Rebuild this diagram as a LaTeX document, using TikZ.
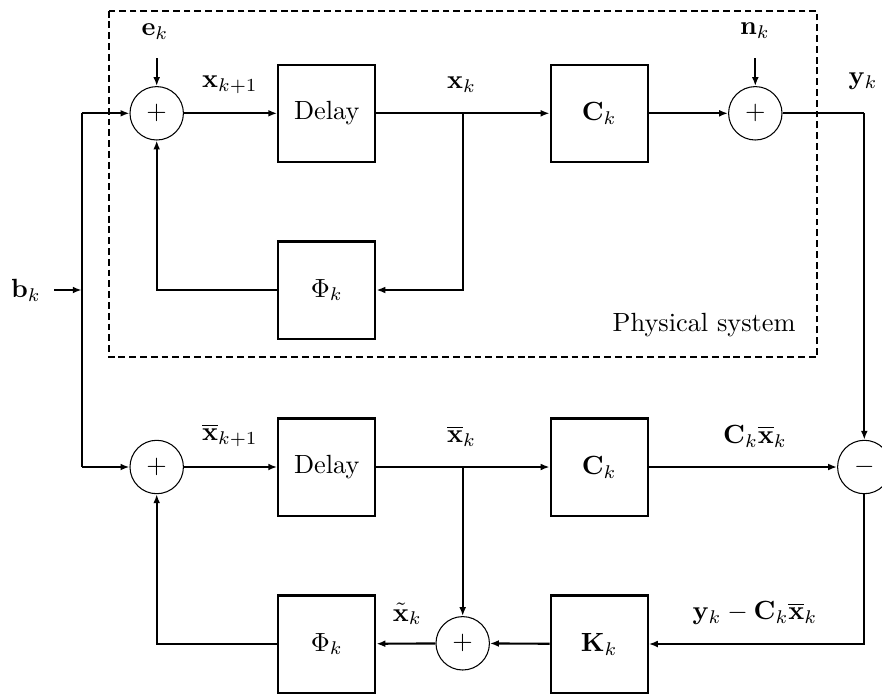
\documentclass[tikz,border=0pt]{standalone}
\usetikzlibrary{arrows.meta}
\begin{document}
\begin{tikzpicture}[x=0.38pt,y=-0.38pt,
  blk/.style={draw,line width=0.8pt,minimum size=36.9pt,inner sep=0pt},
  sumc/.style={draw,circle,line width=0.4pt,minimum size=20.3pt,inner sep=0pt},
  wire/.style={line width=0.8pt},
  arr/.style={line width=0.8pt,-{Latex[length=3.4pt,width=2.6pt]}},
  lbl/.style={inner sep=0pt}]
\useasboundingbox (0,0) rectangle (882,693);
% dashed frame
\draw[line width=0.8pt,dash pattern=on 2.6pt off 1.5pt] (109,10.7) rectangle (817.3,357.3);
\node[lbl,anchor=east] (phys) at (796,325) {Physical system};
% top row
\node[sumc] (s1) at (156.7,113.3) {$+$};
\node[blk] (d1) at (326.8,113.3) {Delay};
\node[blk] (p1) at (326.8,290) {$\Phi_k$};
\node[blk] (c1) at (599.2,113.3) {$\mathbf{C}_k$};
\node[sumc] (s2) at (755.3,113.3) {$+$};
\coordinate (b1) at (462.7,113.3);
\coordinate (yc) at (864.3,113.3);
% bottom rows
\node[sumc] (s3) at (156.7,467) {$+$};
\node[blk] (d2) at (326.8,467) {Delay};
\node[blk] (c2) at (599.2,467) {$\mathbf{C}_k$};
\node[sumc] (m) at (864.3,467) {$-$};
\coordinate (b2) at (462.7,467);
\node[blk] (p2) at (326.8,644) {$\Phi_k$};
\node[sumc] (s4) at (462.7,643.3) {$+$};
\node[blk] (kk) at (599.2,644) {$\mathbf{K}_k$};
% inputs
\node[lbl] (bk) at (26,290) {$\mathbf{b}_k$};
\coordinate (bs) at (54,290);
\coordinate (bj) at (81.7,290);
\coordinate (jt) at (81.7,113.3);
\coordinate (jb) at (81.7,467);
\node[lbl] (ek) at (155,31.7) {$\mathbf{e}_k$};
\coordinate (es) at (156.7,58);
\node[lbl] (nk) at (755,31) {$\mathbf{n}_k$};
\coordinate (ns) at (755.3,58);
% labels
\node[lbl] (lx1) at (230,85) {$\mathbf{x}_{k+1}$};
\node[lbl] (lx) at (461.7,85) {$\mathbf{x}_k$};
\node[lbl] (ly) at (863,81.7) {$\mathbf{y}_k$};
\node[lbl] (lbx1) at (230,435) {$\overline{\mathbf{x}}_{k+1}$};
\node[lbl] (lbx) at (461.7,436) {$\overline{\mathbf{x}}_k$};
\node[lbl] (lcx) at (755,436) {$\mathbf{C}_k\overline{\mathbf{x}}_k$};
\node[lbl] (ltx) at (407.3,614) {$\tilde{\mathbf{x}}_k$};
\node[lbl] (lres) at (755,613) {$\mathbf{y}_k-\mathbf{C}_k\overline{\mathbf{x}}_k$};
% connectors
\draw[arr] (bs) -- (bj);
\draw[wire] (jt) -- (jb);
\draw[arr] (jt) -- (s1);
\draw[arr] (jb) -- (s3);
\draw[arr] (es) -- (s1);
\draw[arr] (ns) -- (s2);
\draw[arr] (s1) -- (d1);
\draw[wire] (d1) -- (b1);
\draw[arr] (b1) -- (c1);
\draw[arr] (b1) |- (p1);
\draw[arr] (p1) -| (s1);
\draw[arr] (c1) -- (s2);
\draw[wire] (s2) -- (yc);
\draw[arr] (yc) -- (m);
\draw[arr] (s3) -- (d2);
\draw[wire] (d2) -- (b2);
\draw[arr] (b2) -- (c2);
\draw[arr] (c2) -- (m);
\draw[arr] (b2) -- (s4);
\draw[arr] (m) |- (kk);
\draw[arr] (kk) -- (s4);
\draw[arr] (s4) -- (p2);
\draw[arr] (p2) -| (s3);
\end{tikzpicture}
\end{document}
